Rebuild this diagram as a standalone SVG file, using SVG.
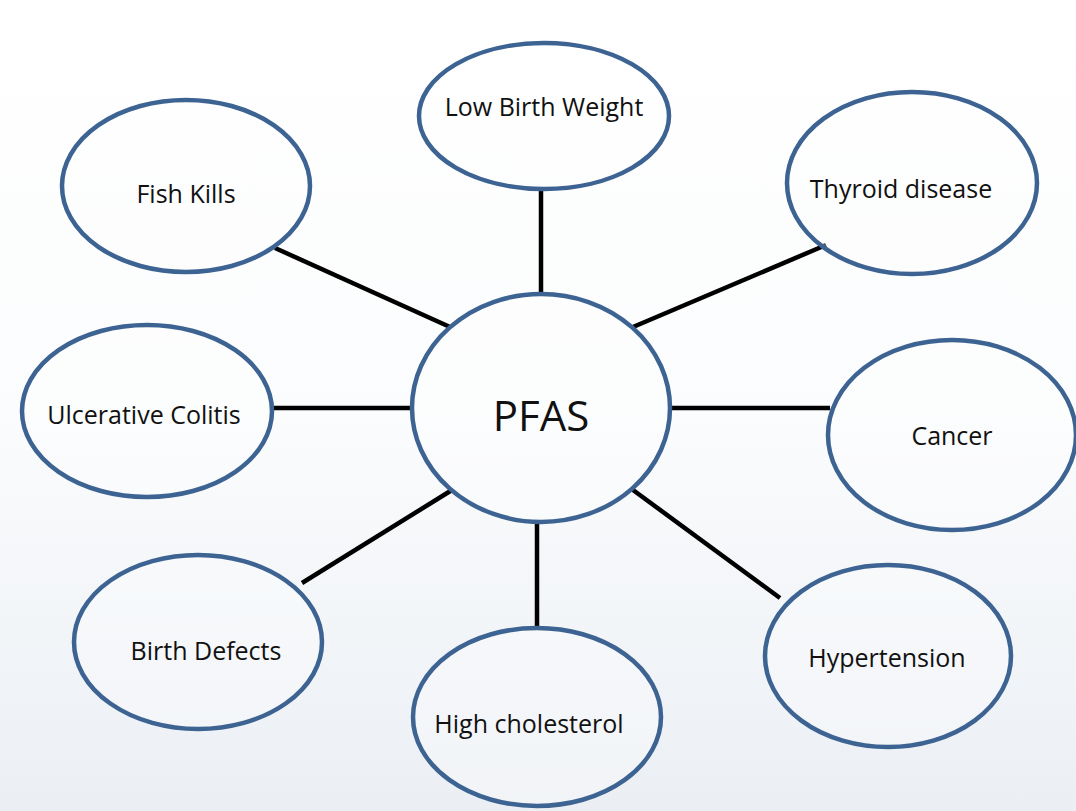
<svg xmlns="http://www.w3.org/2000/svg" width="1076" height="811" viewBox="0 0 1076 811">
<defs>
<linearGradient id="bg" x1="0" y1="0" x2="0" y2="1">
<stop offset="0" stop-color="#ffffff"/>
<stop offset="0.5" stop-color="#fbfcfd"/>
<stop offset="1" stop-color="#ebeff4"/>
</linearGradient>
</defs>
<style>
.n ellipse{fill:#ffffff;fill-opacity:0.3;stroke:#3d6392;stroke-width:4.5}
.n text{font-family:"Open Sans","Noto Sans",sans-serif;font-size:25px;fill:#111;text-anchor:middle}
#pfas text{font-size:42px}
#edges line{stroke:#000;stroke-width:4.5}
</style>
<rect width="1076" height="811" fill="url(#bg)"/>
<g id="edges">
<line x1="541" y1="190" x2="541" y2="295"/>
<line x1="633" y1="327" x2="826" y2="245"/>
<line x1="275" y1="248" x2="450" y2="327"/>
<line x1="272" y1="408" x2="412" y2="408"/>
<line x1="670" y1="408" x2="830" y2="408"/>
<line x1="302" y1="583" x2="452" y2="490"/>
<line x1="537" y1="522" x2="537" y2="628"/>
<line x1="633" y1="490" x2="780" y2="598"/>
</g>
<g id="pfas" class="n"><ellipse cx="541" cy="408" rx="129" ry="114"/><text x="541" y="431">PFAS</text></g>
<g id="lbw" class="n"><ellipse cx="544" cy="116" rx="125" ry="73"/><text x="544" y="116">Low Birth Weight</text></g>
<g id="thyroid" class="n"><ellipse cx="912" cy="183" rx="125" ry="91"/><text x="901" y="198">Thyroid disease</text></g>
<g id="fish" class="n"><ellipse cx="186" cy="186" rx="124" ry="86"/><text x="186" y="203">Fish Kills</text></g>
<g id="colitis" class="n"><ellipse cx="147" cy="411" rx="125" ry="86"/><text x="144" y="424">Ulcerative Colitis</text></g>
<g id="cancer" class="n"><ellipse cx="952" cy="435" rx="124" ry="95"/><text x="952" y="445">Cancer</text></g>
<g id="birth" class="n"><ellipse cx="198" cy="642" rx="124" ry="87"/><text x="206" y="660">Birth Defects</text></g>
<g id="hyper" class="n"><ellipse cx="888" cy="656" rx="123" ry="91"/><text x="887" y="667">Hypertension</text></g>
<g id="chol" class="n"><ellipse cx="537" cy="717" rx="124" ry="89"/><text x="529" y="733">High cholesterol</text></g>
</svg>
